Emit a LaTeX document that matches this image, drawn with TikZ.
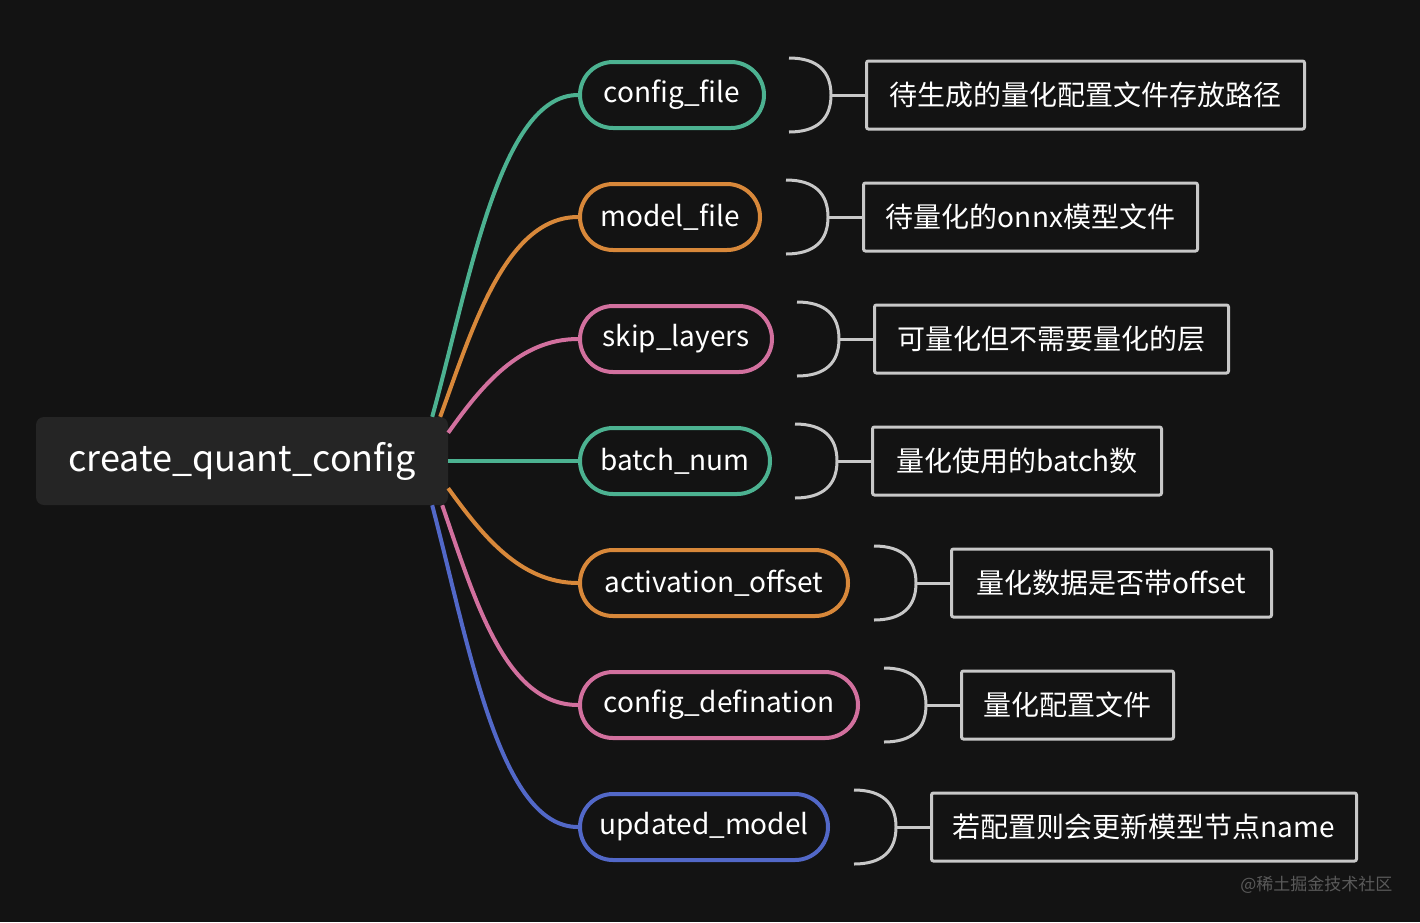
\documentclass[tikz,border=0pt]{standalone}
\usepackage{fontspec}
\setmainfont{Noto Sans CJK SC}
\usetikzlibrary{calc, positioning}
\definecolor{bgdark}{RGB}{19, 19, 19}
\definecolor{rootgray}{RGB}{37, 37, 37}
\definecolor{brgray}{RGB}{200, 200, 200}
\definecolor{mgreen}{RGB}{76, 178, 145}
\definecolor{morange}{RGB}{216, 136, 58}
\definecolor{mpink}{RGB}{210, 112, 158}
\definecolor{mblue}{RGB}{82, 104, 200}
\definecolor{wmgray}{RGB}{90, 90, 90}

\begin{document}
\begin{tikzpicture}[x=1pt, y=-1pt,
  topic/.style={draw, line width=4pt, rounded corners=33pt, minimum height=66pt,
    inner xsep=0pt, text=white, anchor=west, font=\fontsize{28pt}{32pt}\selectfont},
  note/.style={draw=brgray, line width=3pt, rounded corners=2pt, minimum height=68pt,
    inner xsep=0pt, text=white, anchor=west, font=\fontsize{28pt}{32pt}\selectfont},
  brk/.style={brgray, line width=3pt},
  branch/.style={line width=4pt}]
  % 背景
  \fill[bgdark] (0,0) rectangle (1420,922);
  \useasboundingbox (0,0) rectangle (1420,922);

  % 中心主题
  \node[fill=rootgray, rounded corners=8pt, minimum width=412pt, minimum height=88pt,
        text=white, font=\fontsize{36pt}{40pt}\selectfont] (root) at (242,461) {create\_quant\_config};

  % 参数
  \node[topic, draw=mgreen, minimum width=184pt]   (cfg)    at (578, 95)  {config\_file};
  \node[topic, draw=morange, minimum width=180pt]  (model)  at (578,217)  {model\_file};
  \node[topic, draw=mpink, minimum width=192pt]    (skip)   at (578,339)  {skip\_layers};
  \node[topic, draw=mgreen, minimum width=190pt]   (batch)  at (578,461)  {batch\_num};
  \node[topic, draw=morange, minimum width=268pt]  (act)    at (578,583)  {activation\_offset};
  \node[topic, draw=mpink, minimum width=278pt]    (cdef)   at (578,705)  {config\_defination};
  \node[topic, draw=mblue, minimum width=248pt]    (upd)    at (578,827)  {updated\_model};

  % 分支
  \draw[branch, mgreen]  ($(root.north east)+(-16,0)$) .. controls (470,280) and (500,95) .. (cfg.west);
  \draw[branch, morange] ($(root.north east)+(-8,0)$) .. controls (472,330) and (505,217) .. (model.west);
  \draw[branch, mpink]   ($(root.north east)+(0,16)$) .. controls (482,385) and (520,339) .. (skip.west);
  \draw[branch, mgreen]  (root.east) -- (batch.west);
  \draw[branch, morange] ($(root.south east)+(0,-17)$) .. controls (482,535) and (520,583) .. (act.west);
  \draw[branch, mpink]   ($(root.south east)+(-6,0)$) .. controls (475,600) and (505,705) .. (cdef.west);
  \draw[branch, mblue]   ($(root.south east)+(-16,0)$) .. controls (470,650) and (500,827) .. (upd.west);

  % 括号
  \draw[brk] ($(cfg.east)+(23,-37)$) .. controls +(28,0) and +(0,-24) .. ($(cfg.east)+(65,0)$) coordinate (k1)
             .. controls +(0,24) and +(28,0) .. ($(cfg.east)+(23,37)$);
  \draw[brk] ($(model.east)+(24,-37)$) .. controls +(28,0) and +(0,-24) .. ($(model.east)+(66,0)$) coordinate (k2)
             .. controls +(0,24) and +(28,0) .. ($(model.east)+(24,37)$);
  \draw[brk] ($(skip.east)+(23,-37)$) .. controls +(28,0) and +(0,-24) .. ($(skip.east)+(65,0)$) coordinate (k3)
             .. controls +(0,24) and +(28,0) .. ($(skip.east)+(23,37)$);
  \draw[brk] ($(batch.east)+(23,-37)$) .. controls +(28,0) and +(0,-24) .. ($(batch.east)+(65,0)$) coordinate (k4)
             .. controls +(0,24) and +(28,0) .. ($(batch.east)+(23,37)$);
  \draw[brk] ($(act.east)+(24,-37)$) .. controls +(28,0) and +(0,-24) .. ($(act.east)+(66,0)$) coordinate (k5)
             .. controls +(0,24) and +(28,0) .. ($(act.east)+(24,37)$);
  \draw[brk] ($(cdef.east)+(24,-37)$) .. controls +(28,0) and +(0,-24) .. ($(cdef.east)+(66,0)$) coordinate (k6)
             .. controls +(0,24) and +(28,0) .. ($(cdef.east)+(24,37)$);
  \draw[brk] ($(upd.east)+(24,-37)$) .. controls +(28,0) and +(0,-24) .. ($(upd.east)+(66,0)$) coordinate (k7)
             .. controls +(0,24) and +(28,0) .. ($(upd.east)+(24,37)$);

  % 说明
  \node[note, minimum width=438pt, right=34pt of k1] (n1) {待生成的量化配置文件存放路径};
  \node[note, minimum width=334pt, right=34pt of k2] (n2) {待量化的onnx模型文件};
  \node[note, minimum width=354pt, right=34pt of k3] (n3) {可量化但不需要量化的层};
  \node[note, minimum width=289pt, right=34pt of k4] (n4) {量化使用的batch数};
  \node[note, minimum width=320pt, right=34pt of k5] (n5) {量化数据是否带offset};
  \node[note, minimum width=212pt, right=34pt of k6] (n6) {量化配置文件};
  \node[note, minimum width=425pt, right=34pt of k7] (n7) {若配置则会更新模型节点name};
  \draw[brk] (k1) -- (n1.west);
  \draw[brk] (k2) -- (n2.west);
  \draw[brk] (k3) -- (n3.west);
  \draw[brk] (k4) -- (n4.west);
  \draw[brk] (k5) -- (n5.west);
  \draw[brk] (k6) -- (n6.west);
  \draw[brk] (k7) -- (n7.west);

  % 水印
  \node[text=wmgray, anchor=east, font=\fontsize{17pt}{20pt}\selectfont] (wm) at (1396,885) {@稀土掘金技术社区};
\end{tikzpicture}
\end{document}
